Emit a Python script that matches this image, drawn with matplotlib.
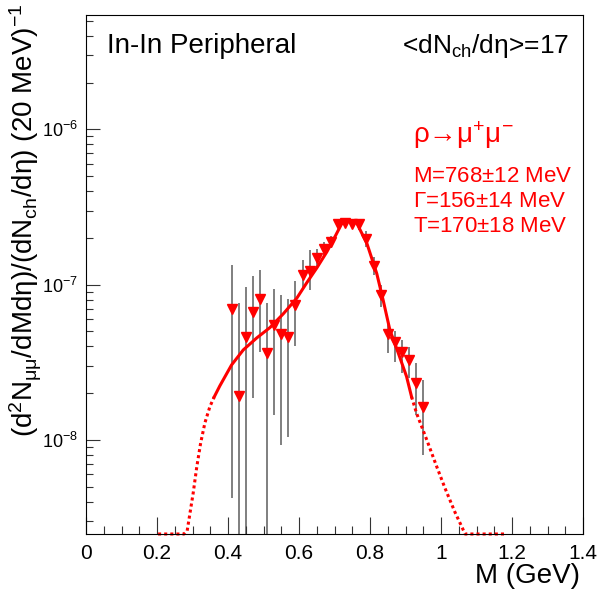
import numpy as np
import matplotlib
matplotlib.use("Agg")
import matplotlib.pyplot as plt
from matplotlib.ticker import FixedLocator, LogLocator, NullFormatter

plt.rcParams['font.family'] = ['Liberation Sans', 'DejaVu Sans']
plt.rcParams['mathtext.fontset'] = 'custom'
plt.rcParams['mathtext.rm'] = 'Liberation Sans'
plt.rcParams['mathtext.it'] = 'Liberation Sans'
plt.rcParams['mathtext.sf'] = 'Liberation Sans'

# data points (20 MeV bins)
mass = [0.41, 0.43, 0.45, 0.47, 0.49, 0.51, 0.53, 0.55, 0.57, 0.59,
        0.61, 0.63, 0.65, 0.67, 0.69, 0.71, 0.73, 0.75, 0.77, 0.79,
        0.81, 0.83, 0.85, 0.87, 0.89, 0.91, 0.93, 0.95]
yield_ = [6.95e-8, 1.92e-8, 4.58e-8, 6.70e-8, 8.13e-8, 3.61e-8, 5.51e-8, 4.80e-8, 4.63e-8, 7.37e-8,
          1.15e-7, 1.23e-7, 1.49e-7, 1.69e-7, 1.89e-7, 2.46e-7, 2.48e-7, 2.46e-7, 2.46e-7, 1.96e-7,
          1.32e-7, 8.52e-8, 4.82e-8, 4.27e-8, 3.71e-8, 3.28e-8, 2.32e-8, 1.64e-8]
err_hi = [1.34e-7, 7.6e-8, 9.7e-8, 1.14e-7, 1.24e-7, 7.66e-8, 9.4e-8, 8.6e-8, 8.05e-8, 1.06e-7,
          1.44e-7, 1.67e-7, 1.70e-7, 1.88e-7, 2.07e-7, 2.62e-7, 2.62e-7, 2.60e-7, 2.66e-7, 2.20e-7,
          1.50e-7, 1.00e-7, 5.6e-8, 5.0e-8, 4.41e-8, 3.99e-8, 3.13e-8, 2.43e-8]
err_lo = [4.2e-9, 1e-10, 1e-10, 1.86e-8, 3.7e-8, 1e-10, 1.45e-8, 9.3e-9, 1.05e-8, 4.0e-8,
          9.3e-8, 9.25e-8, 1.30e-7, 1.52e-7, 1.72e-7, 2.30e-7, 2.34e-7, 2.30e-7, 2.26e-7, 1.74e-7,
          1.15e-7, 7.2e-8, 3.63e-8, 3.19e-8, 2.70e-8, 2.51e-8, 1.45e-8, 8.0e-9]

# fit curve (solid = fit range, dotted = extrapolation)
fit_x = [0.361, 0.377, 0.410, 0.443, 0.481, 0.518, 0.556, 0.594, 0.622, 0.650, 0.678,
         0.701, 0.720, 0.734, 0.749, 0.763, 0.791, 0.819, 0.837, 0.856, 0.880, 0.903, 0.917]
fit_y = [1.89e-8, 2.23e-8, 3.04e-8, 3.80e-8, 4.54e-8, 5.29e-8, 6.50e-8, 8.20e-8, 1.03e-7, 1.28e-7, 1.62e-7,
         2.03e-7, 2.46e-7, 2.58e-7, 2.55e-7, 2.48e-7, 1.85e-7, 1.18e-7, 7.96e-8, 5.11e-8, 3.61e-8, 2.56e-8, 1.90e-8]
ext_lo_x = [0.203, 0.276, 0.285, 0.293, 0.302, 0.312, 0.323, 0.335, 0.349, 0.361]
ext_lo_y = [2.48e-9, 2.48e-9, 2.6e-9, 3.39e-9, 4.56e-9, 6.70e-9, 9.57e-9, 1.29e-8, 1.64e-8, 1.89e-8]
ext_hi_x = [0.917, 0.931, 0.960, 0.988, 1.011, 1.039, 1.068, 1.186]
ext_hi_y = [1.90e-8, 1.49e-8, 1.0e-8, 6.73e-9, 4.91e-9, 3.44e-9, 2.48e-9, 2.48e-9]

fig = plt.figure(figsize=(6.01, 5.91), dpi=100)
ax = fig.add_axes([86/601, 1-534/591, 497/601, 519/591])

m = np.array(mass)
y = np.array(yield_)
yerr = [y - np.array(err_lo), np.array(err_hi) - y]
ax.errorbar(m, y, yerr=yerr, fmt='none', ecolor='#6a6a6a', elinewidth=1.2, capsize=0, zorder=1)
ax.plot(fit_x, fit_y, color='red', lw=2.2, zorder=2)
ax.plot(ext_lo_x, ext_lo_y, color='red', lw=2.2, ls=(0, (1, 1)), zorder=2, clip_on=False)
ax.plot(ext_hi_x, ext_hi_y, color='red', lw=2.2, ls=(0, (1, 1)), zorder=2, clip_on=False)
ax.plot(m, y, 'v', color='red', ms=7.5, mec='red', zorder=3)

ax.set_yscale('log')
ax.set_xlim(0, 1.4)
ax.set_ylim(2.48e-9, 5.45e-6)

ax.xaxis.set_major_locator(FixedLocator([0, 0.2, 0.4, 0.6, 0.8, 1.0, 1.2, 1.4]))
ax.xaxis.set_minor_locator(FixedLocator(np.arange(0, 1.401, 0.05)))
ax.set_xticklabels(['0', '0.2', '0.4', '0.6', '0.8', '1', '1.2', '1.4'])
ax.yaxis.set_major_locator(FixedLocator([1e-8, 1e-7, 1e-6]))
ax.yaxis.set_minor_locator(LogLocator(base=10, subs=np.arange(2, 10)))
ax.yaxis.set_minor_formatter(NullFormatter())
ax.set_yticklabels(['10$^{-8}$', '10$^{-7}$', '10$^{-6}$'])

ax.tick_params(which='both', direction='in', top=False, right=False, width=0.8, color='#333333')
ax.tick_params(axis='x', which='major', length=12, labelsize=15, pad=7)
ax.tick_params(axis='x', which='minor', length=6)
ax.tick_params(axis='y', which='major', length=10, labelsize=13, pad=6)
ax.tick_params(axis='y', which='minor', length=5)
for s in ax.spines.values():
    s.set_linewidth(0.8)

fig.text(580/601, 1-583/591, 'M (GeV)', fontsize=20, ha='right', va='baseline')
fig.text(26/601, 1-4/591,
         r'(d$^{2}$N$_{\mu\mu}$/dMd$\eta$)/(dN$_{\mathrm{ch}}$/d$\eta$) (20 MeV)$^{-1}$',
         fontsize=20, rotation=90, ha='center', va='top')

fig.text(107/601, 1-53/591, 'In-In Peripheral', fontsize=20, ha='left', va='baseline')
fig.text(402/601, 1-53/591, r'<dN$_{\mathrm{ch}}$/d$\eta$>=17', fontsize=19, ha='left', va='baseline')

fig.text(413/601, 1-143/591, 'ρ→μ$^{+}$μ$^{-}$', fontsize=20, color='red', ha='left', va='baseline')
fig.text(413/601, 1-182/591, r'M=768$\pm$12 MeV', fontsize=16, color='red', ha='left', va='baseline')
fig.text(413/601, 1-207/591, r'$\Gamma$=156$\pm$14 MeV', fontsize=16, color='red', ha='left', va='baseline')
fig.text(413/601, 1-232/591, r'T=170$\pm$18 MeV', fontsize=16, color='red', ha='left', va='baseline')

fig.savefig('out.png', dpi=100)
